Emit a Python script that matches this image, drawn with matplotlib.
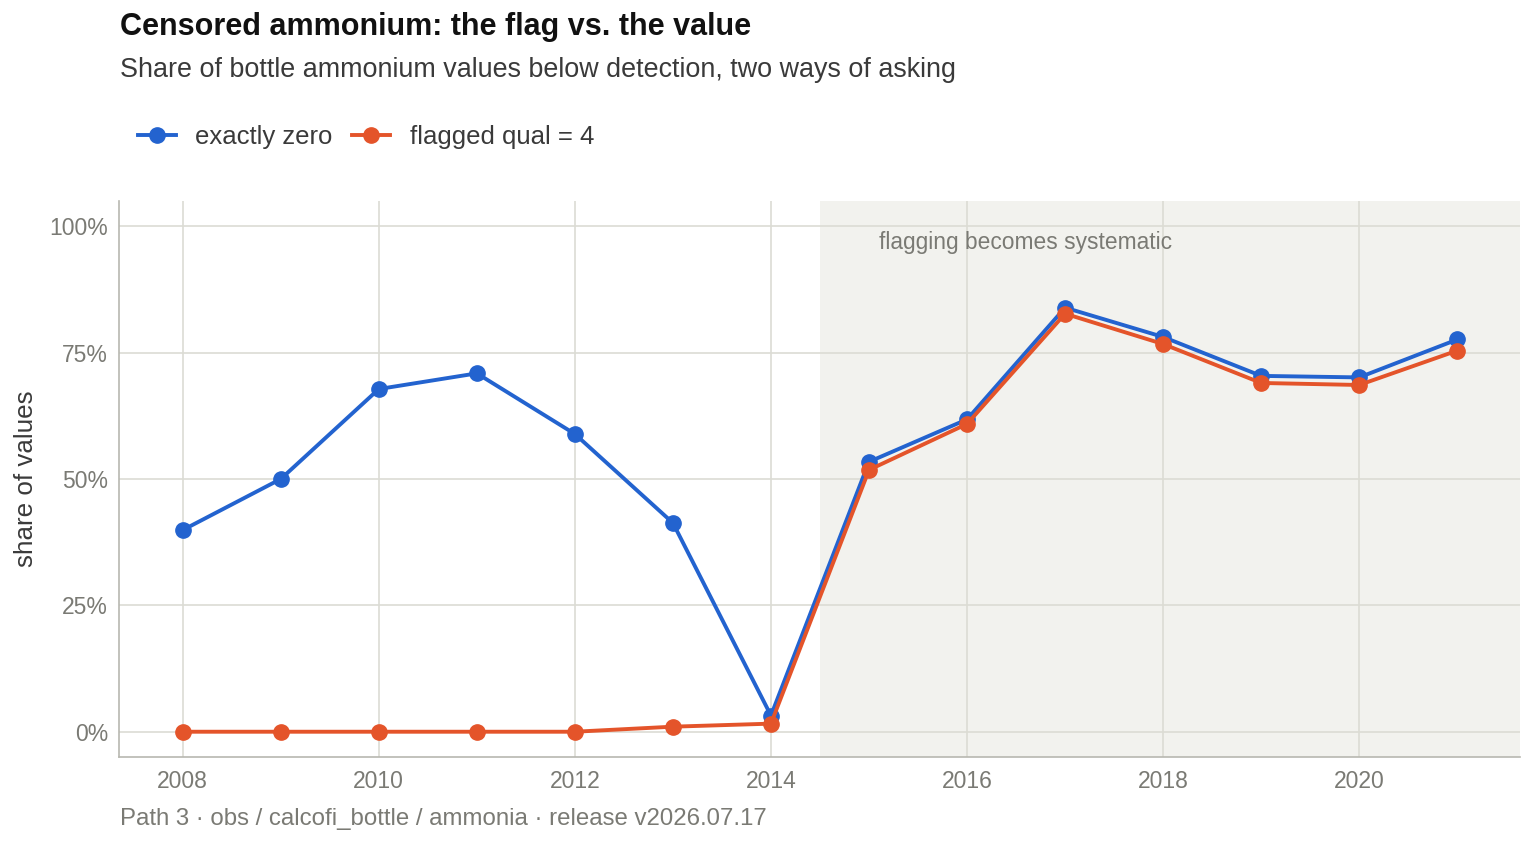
import matplotlib
matplotlib.use("Agg")
from matplotlib import pyplot as plt
from matplotlib.ticker import PercentFormatter

plt.rcParams['font.family'] = ['Liberation Sans', 'DejaVu Sans']

years = [2008, 2009, 2010, 2011, 2012, 2013, 2014, 2015, 2016, 2017, 2018, 2019, 2020, 2021]
exactly_zero = [39.9, 50.0, 67.8, 70.9, 58.9, 41.3, 3.2, 53.4, 61.8, 83.9, 78.1, 70.4, 70.1, 77.6]
flagged_q4 = [0.0, 0.0, 0.0, 0.0, 0.0, 1.0, 1.6, 51.8, 60.9, 82.7, 76.7, 69.0, 68.6, 75.4]

blue = "#2363cf"
orange = "#e4542a"
grey_txt = "#7a7a74"
grid_c = "#dcdcd4"

fig = plt.figure(figsize=(15.36, 8.44), dpi=100)
ax = fig.add_axes([119/1536, 87/844, (1520-119)/1536, (757-201)/844])

ax.set_xlim(2007.35, 2021.64)
ax.set_ylim(-5, 105)
ax.axvspan(2014.5, 2021.64, color="#f2f2ee", zorder=0, lw=0)

ax.plot(years, exactly_zero, color=blue, lw=2.8, marker="o", ms=11, label="exactly zero", zorder=3)
ax.plot(years, flagged_q4, color=orange, lw=2.8, marker="o", ms=11, label="flagged qual = 4", zorder=4)

ax.text(2015.1, 96.8, "flagging becomes systematic", color=grey_txt, fontsize=16.4, va="center", ha="left")

ax.set_xticks([2008, 2010, 2012, 2014, 2016, 2018, 2020])
ax.set_yticks([0, 25, 50, 75, 100])
ax.yaxis.set_major_formatter(PercentFormatter(decimals=0))
ax.grid(True, color=grid_c, lw=1.2)
ax.set_axisbelow(True)
ax.tick_params(length=0, labelsize=16.5, labelcolor=grey_txt)
ax.tick_params(axis="x", pad=9)
ax.tick_params(axis="y", pad=8)
for s in ["top", "right"]:
    ax.spines[s].set_visible(False)
for s in ["left", "bottom"]:
    ax.spines[s].set_color("#b8b8b0")
    ax.spines[s].set_linewidth(1.2)
ax.set_facecolor("white")
ax.set_ylabel("share of values", fontsize=18.7, color="#3a3a3a")
ax.yaxis.set_label_coords(-0.058, 0.5)

fig.text(120/1536, 1 - 27/844, "Censored ammonium: the flag vs. the value", fontsize=22,
         fontweight="bold", color="#111111", va="center", ha="left")
fig.text(120/1536, 1 - 70/844, "Share of bottle ammonium values below detection, two ways of asking",
         fontsize=19.4, color="#3a3a3a", va="center", ha="left")
fig.text(120/1536, 1 - 819/844, "Path 3 \u00b7 obs / calcofi_bottle / ammonia \u00b7 release v2026.07.17",
         fontsize=17.3, color=grey_txt, va="center", ha="left")

fig.legend(loc="center left", bbox_to_anchor=(138/1536, 1 - 137/844), ncol=2, frameon=False,
           fontsize=18.5, handlelength=1.48, columnspacing=0.78, handletextpad=0.74,
           borderpad=0, borderaxespad=0, labelcolor="#3a3a3a")

fig.savefig("out.png", dpi=100)
